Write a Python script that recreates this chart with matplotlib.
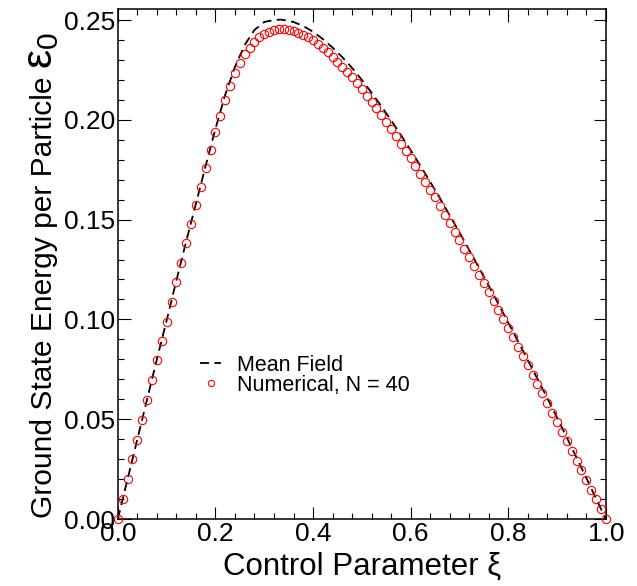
import numpy as np
import matplotlib
matplotlib.use("Agg")
import matplotlib.pyplot as plt
from matplotlib.ticker import MultipleLocator, FormatStrFormatter

plt.rcParams['font.family'] = ['Liberation Sans', 'DejaVu Sans']
plt.rcParams['mathtext.fontset'] = 'custom'
plt.rcParams['mathtext.rm'] = 'Liberation Sans'
plt.rcParams['mathtext.it'] = 'Liberation Sans:italic'

# mean field curve
xi_mf = [0.00, 0.02, 0.04, 0.06, 0.08, 0.10, 0.12, 0.14, 0.16, 0.18,
         0.20, 0.22, 0.24, 0.26, 0.28, 0.30, 0.32, 0.333, 0.34, 0.36,
         0.38, 0.40, 0.42, 0.44, 0.46, 0.48, 0.50, 0.52, 0.54, 0.56,
         0.58, 0.60, 0.62, 0.64, 0.66, 0.68, 0.70, 0.72, 0.74, 0.76,
         0.78, 0.80, 0.82, 0.84, 0.86, 0.88, 0.90, 0.92, 0.94, 0.96,
         0.98, 1.00]
eps_mf = [0.0000, 0.0200, 0.0400, 0.0600, 0.0800, 0.0995, 0.1195, 0.1390, 0.1580, 0.1770,
          0.1955, 0.2125, 0.2265, 0.2375, 0.2450, 0.2490, 0.2500, 0.2502, 0.2500, 0.2490,
          0.2470, 0.2441, 0.2405, 0.2362, 0.2314, 0.2260, 0.2200, 0.2136, 0.2068, 0.1998,
          0.1924, 0.1848, 0.1770, 0.1690, 0.1607, 0.1522, 0.1436, 0.1348, 0.1259, 0.1169,
          0.1077, 0.0984, 0.0891, 0.0797, 0.0702, 0.0606, 0.0508, 0.0409, 0.0308, 0.0206,
          0.0103, 0.0000]

# numerical result, N = 40
xi_num = np.round(np.arange(0, 101) * 0.01, 2)
eps_num = [0.0000, 0.0099, 0.0199, 0.0299, 0.0396, 0.0496, 0.0596, 0.0698, 0.0795, 0.0892,
           0.0988, 0.1087, 0.1186, 0.1284, 0.1381, 0.1476, 0.1572, 0.1665, 0.1757, 0.1849,
           0.1937, 0.2021, 0.2099, 0.2169, 0.2233, 0.2283, 0.2328, 0.2361, 0.2391, 0.2413,
           0.2430, 0.2441, 0.2450, 0.2454, 0.2454, 0.2450, 0.2445, 0.2436, 0.2427, 0.2413,
           0.2398, 0.2380, 0.2359, 0.2338, 0.2316, 0.2292, 0.2267, 0.2241, 0.2213, 0.2183,
           0.2153, 0.2121, 0.2091, 0.2058, 0.2024, 0.1991, 0.1954, 0.1919, 0.1879, 0.1844,
           0.1807, 0.1769, 0.1729, 0.1690, 0.1648, 0.1611, 0.1568, 0.1525, 0.1485, 0.1439,
           0.1398, 0.1354, 0.1311, 0.1268, 0.1224, 0.1181, 0.1136, 0.1092, 0.1047, 0.1002,
           0.0955, 0.0910, 0.0863, 0.0818, 0.0772, 0.0723, 0.0676, 0.0630, 0.0580, 0.0533,
           0.0484, 0.0436, 0.0389, 0.0341, 0.0292, 0.0244, 0.0195, 0.0145, 0.0099, 0.0050,
           0.0000]

fig = plt.figure(figsize=(6.37, 5.86), dpi=100)
ax = fig.add_axes([0.185, 0.1143, 0.766, 0.8703])

ax.plot(xi_mf, eps_mf, color='black', lw=1.3, linestyle=(0, (5.0, 3.0)),
        label='Mean Field', zorder=2)
ax.plot(xi_num, eps_num, linestyle='none', marker='o', ms=6, mfc='none',
        mec='red', mew=0.8, label='Numerical, N = 40', clip_on=False, zorder=3)

ax.set_xlim(0, 1.0)
ax.set_ylim(0, 0.2555)
ax.xaxis.set_major_locator(MultipleLocator(0.2))
ax.xaxis.set_minor_locator(MultipleLocator(0.04))
ax.yaxis.set_major_locator(MultipleLocator(0.05))
ax.yaxis.set_minor_locator(MultipleLocator(0.01))
ax.xaxis.set_major_formatter(FormatStrFormatter('%.1f'))
ax.yaxis.set_major_formatter(FormatStrFormatter('%.2f'))

ax.tick_params(which='both', direction='in', top=True, right=True, labelsize=19)
ax.tick_params(which='major', length=9, width=0.8, pad=2)
ax.tick_params(which='minor', length=4.5, width=0.8)
for s in ax.spines.values():
    s.set_linewidth(1.1)

ax.set_xlabel('Control Parameter ξ', fontsize=22.5, labelpad=4)

# y label: plain text plus a larger epsilon with subscript
ax.text(-0.135, 0.868, 'Ground State Energy per Particle', transform=ax.transAxes,
        rotation=90, rotation_mode='anchor', ha='right', va='baseline', fontsize=21.6)
ax.text(-0.135, 0.882, 'ε$_0$', transform=ax.transAxes,
        rotation=90, rotation_mode='anchor', ha='left', va='baseline', fontsize=31)

ax.legend(loc='center left', bbox_to_anchor=(0.168, 0.282), frameon=False,
          fontsize=15.5, handlelength=1.0, handletextpad=0.75, labelspacing=-0.05,
          borderpad=0, borderaxespad=0, markerscale=0.75)

fig.savefig('out.png', dpi=100)
